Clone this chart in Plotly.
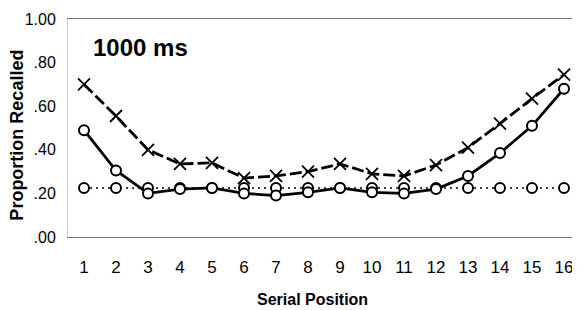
import plotly.graph_objects as go

positions = list(range(1, 17))
x_series = [0.70, 0.555, 0.40, 0.335, 0.34, 0.27, 0.28, 0.30, 0.335, 0.29, 0.28, 0.33, 0.41, 0.52, 0.635, 0.745]
solid_series = [0.49, 0.305, 0.20, 0.22, 0.225, 0.20, 0.19, 0.205, 0.225, 0.205, 0.20, 0.22, 0.28, 0.385, 0.51, 0.68]
dotted_series = [0.225, 0.225, 0.225, 0.225, 0.225, 0.225, 0.225, 0.225, 0.225, 0.225, 0.225, 0.225, 0.225, 0.225, 0.225, 0.225]
y_tickvals = [0, 0.2, 0.4, 0.6, 0.8, 1.0]
y_ticktext = [".00", ".20", ".40", ".60", ".80", "1.00"]

font = "Liberation Sans, Arial, sans-serif"

# page body has an 8px margin: figure is placed at (8, 8)
W, H = 572, 302
ML, MR, MT, MB = 60, 0, 11, 73
PW, PH = W - ML - MR, H - MT - MB

fig = go.Figure()
fig.add_trace(go.Scatter(
    x=positions, y=dotted_series, mode="lines+markers",
    line=dict(color="black", width=1.5, dash="2px,4px"),
    marker=dict(symbol="circle", size=10, color="white", line=dict(color="black", width=2)),
    showlegend=False))
fig.add_trace(go.Scatter(
    x=positions, y=solid_series, mode="lines+markers",
    line=dict(color="black", width=2.8),
    marker=dict(symbol="circle", size=10, color="white", line=dict(color="black", width=2)),
    showlegend=False))
fig.add_trace(go.Scatter(
    x=positions, y=x_series, mode="lines+markers",
    line=dict(color="black", width=2.8, dash="12px,4px"),
    marker=dict(symbol="x-thin", size=12, color="black", line=dict(color="black", width=1.8)),
    showlegend=False))

fig.add_annotation(text="<b>1000 ms</b>", x=(83 - ML) / PW, y=(MT + PH - 39) / PH,
                   xref="paper", yref="paper", xanchor="left", yanchor="middle",
                   showarrow=False, font=dict(family=font, size=24, color="black"))
fig.add_annotation(text="<b>Serial Position</b>", x=0.5 - 12 / PW, y=-(291 - MT - PH) / PH,
                   xref="paper", yref="paper", xanchor="center", yanchor="middle",
                   showarrow=False, font=dict(family=font, size=16, color="black"))
fig.add_annotation(text="<b>Proportion Recalled</b>", x=-(ML - 9) / PW, y=0.465,
                   xref="paper", yref="paper", xanchor="center", yanchor="middle",
                   textangle=-90, showarrow=False, font=dict(family=font, size=18, color="black"))

fig.update_layout(
    width=W, height=H,
    margin=dict(l=ML, r=MR, t=MT, b=MB, autoexpand=False),
    paper_bgcolor="white", plot_bgcolor="white",
    font=dict(family=font, size=16, color="black"),
    xaxis=dict(range=[0.5, 16.5], tickvals=positions, ticktext=[str(p) for p in positions],
               showgrid=False, zeroline=False, showline=True, linecolor="#777", linewidth=1.2,
               mirror=True, ticks="", ticklabelstandoff=14, automargin=False,
               tickfont=dict(size=17)),
    yaxis=dict(range=[0, 1.0], tickvals=y_tickvals, ticktext=y_ticktext,
               showgrid=False, zeroline=False, showline=True, linecolor="#ccc", linewidth=1,
               ticks="", ticklabelstandoff=8, automargin=False,
               tickfont=dict(size=16)),
)

fig.write_html("out.html")
